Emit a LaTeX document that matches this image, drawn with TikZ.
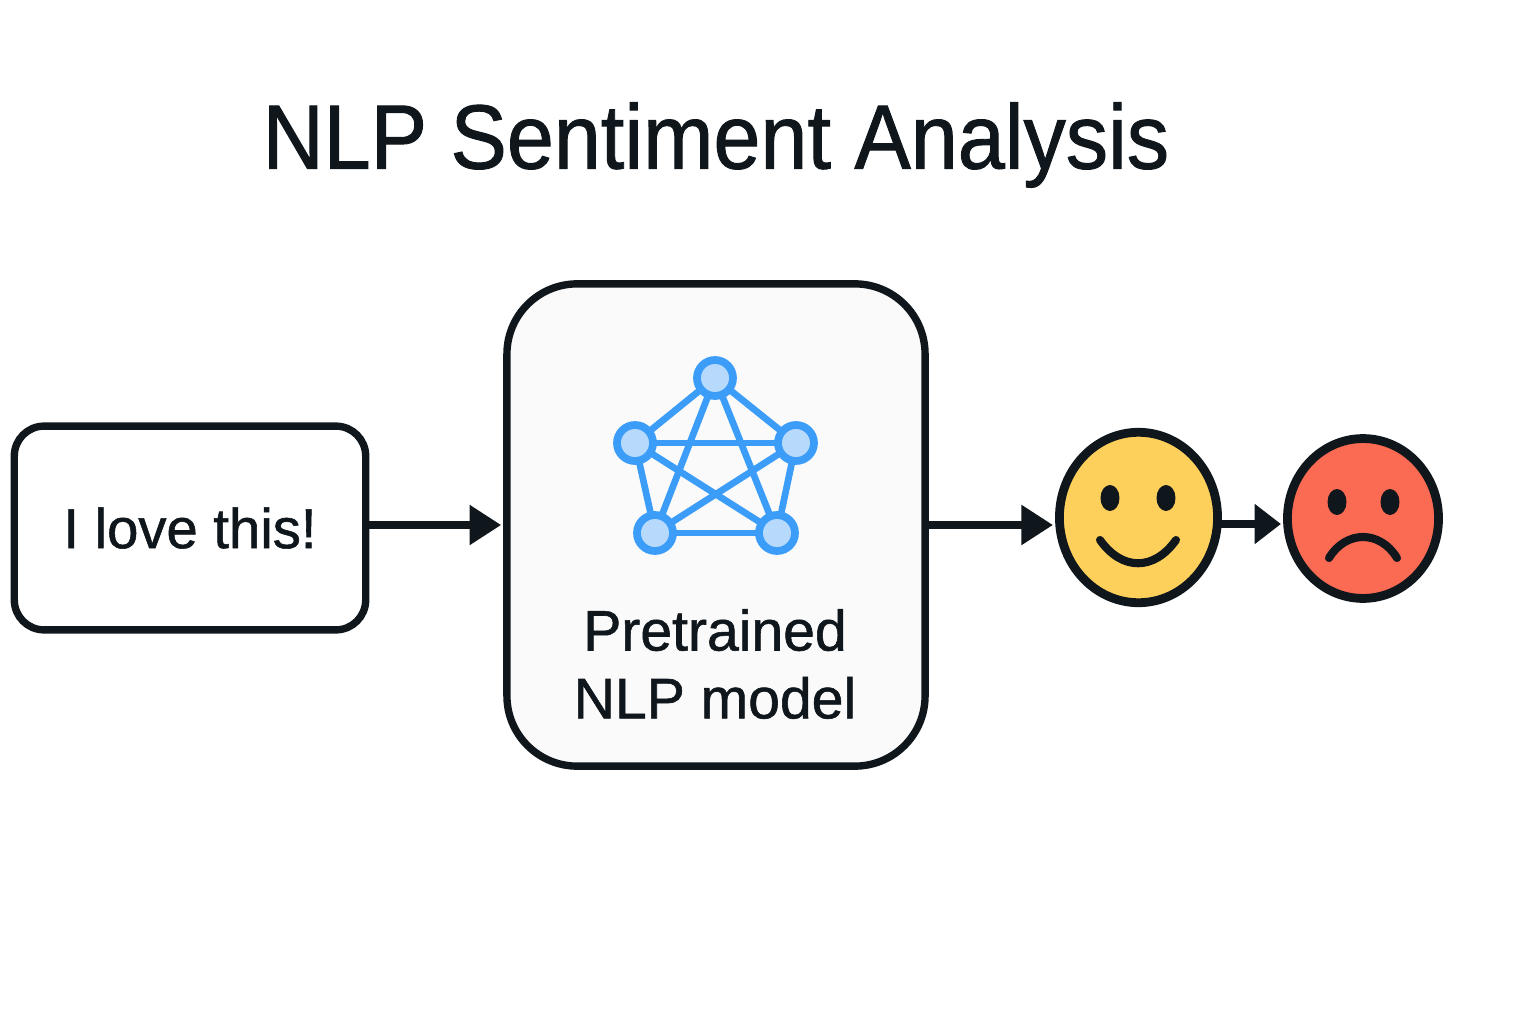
\documentclass[tikz,border=0pt]{standalone}
\usepackage{fontspec}
\setmainfont{Liberation Sans}[FakeBold=1]
\newfontfamily\titlefont{Liberation Sans}[FakeBold=1,FakeStretch=0.925]
\usetikzlibrary{arrows.meta}
\usetikzlibrary{shapes.geometric}
\definecolor{ink}{HTML}{0F171D}
\definecolor{netblue}{HTML}{3B9DF8}
\definecolor{netfill}{HTML}{B7D9FB}
\definecolor{happyfill}{HTML}{FDCF5B}
\definecolor{sadfill}{HTML}{FB6A52}
\begin{document}
\begin{tikzpicture}[x=0.02cm,y=-0.02cm,text=ink,
    box/.style={draw=ink,line width=4.2pt,align=center,inner sep=0pt},
    net/.style={draw=netblue,fill=netfill,circle,line width=4.4pt,minimum size=20.5pt,inner sep=0pt,outer sep=0pt},
    link/.style={draw=netblue,line width=3.8pt},
    face/.style={draw=ink,ellipse,line width=5pt,inner sep=0pt},
    eye/.style={fill=ink,ellipse,inner sep=0pt,minimum width=10.8pt,minimum height=14.8pt},
    mouth/.style={draw=ink,line width=4.6pt,line cap=round},
    flow/.style={draw=ink,line width=4pt,shorten >=1.2pt,-{Triangle[length=18pt,width=22pt]}}]
  \useasboundingbox (0,0) rectangle (1536,1024);
  \node[font=\titlefont\fontsize{52}{62}\selectfont] (title) at (716,145) {NLP Sentiment Analysis};
  \node[box,font=\fontsize{32}{40}\selectfont,rounded corners=17pt,minimum width=200pt,minimum height=116pt] (input) at (190,528)
    {I love this!};
  \node[box,rounded corners=40pt,fill=black!2,minimum width=238pt,minimum height=274.5pt] (model) at (716,525) {};
  \node[align=center,font=\fontsize{32.5}{38.6}\selectfont] (label) at (715,664) {Pretrained\\NLP model};
  \node[net] (n0) at (715,378) {};
  \node[net] (n1) at (796,443) {};
  \node[net] (n2) at (777,533) {};
  \node[net] (n3) at (655,533) {};
  \node[net] (n4) at (635,443) {};
  \draw[link] (n0) -- (n1);
  \draw[link] (n1) -- (n2);
  \draw[link] (n2) -- (n3);
  \draw[link] (n3) -- (n4);
  \draw[link] (n4) -- (n0);
  \draw[link] (n0) -- (n2);
  \draw[link] (n0) -- (n3);
  \draw[link] (n1) -- (n3);
  \draw[link] (n1) -- (n4);
  \draw[link] (n2) -- (n4);
  \node[face,fill=happyfill,minimum width=90pt,minimum height=97pt] (happy) at (1138.5,517.5) {};
  \node[eye] (happyl) at (1110,498) {};
  \node[eye] (happyr) at (1166,498) {};
  \draw[mouth] (1100,540) .. controls (1122,571) and (1154,571) .. (1176,540);
  \node[face,fill=sadfill,minimum width=86pt,minimum height=91pt] (sad) at (1363,518.5) {};
  \node[eye] (sadl) at (1337,502) {};
  \node[eye] (sadr) at (1390,502) {};
  \draw[mouth] (1329,558) .. controls (1346,530) and (1380,530) .. (1397,558);
  \coordinate (mid) at (1250,524);
  \draw[flow] (input.east |- model.west) -- (model.west);
  \draw[flow] (model.east) -- (model.east -| happy.west);
  \draw[flow,shorten <=-2pt,-{Triangle[length=15pt,width=22pt]}] (happy.east |- mid) -- (sad.west |- mid);
\end{tikzpicture}
\end{document}
